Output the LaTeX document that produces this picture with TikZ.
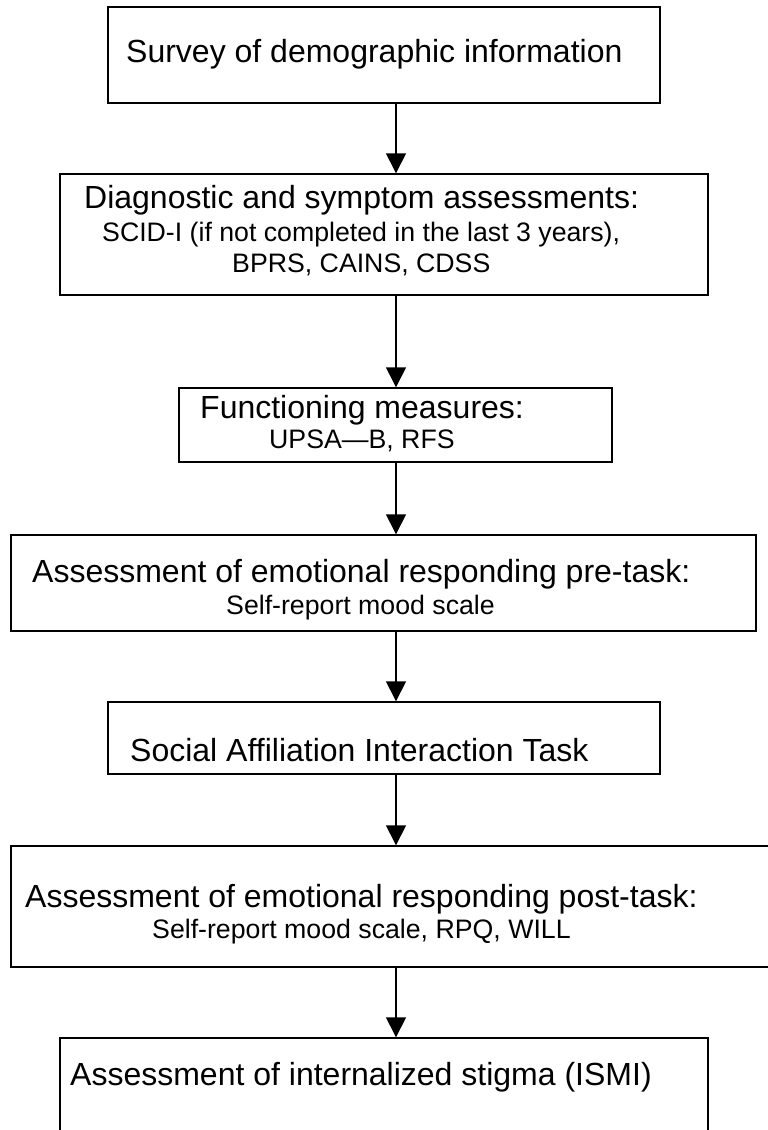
\documentclass[tikz,border=0pt]{standalone}
\usepackage{fontspec}
\setmainfont{Liberation Sans}
\usetikzlibrary{arrows.meta}
\tikzset{
  box/.style={draw=black, line width=1.4pt, inner sep=0pt, rectangle},
  big/.style={anchor=base west, inner sep=0pt, font=\fontsize{32}{38}\selectfont},
  small/.style={anchor=base west, inner sep=0pt, font=\fontsize{26.7}{32}\selectfont},
  flow/.style={line width=1.4pt, -{Triangle[width=20pt,length=20pt]}}
}
\begin{document}
\begin{tikzpicture}[x=1pt,y=-1pt]
\useasboundingbox (0,0) rectangle (768,1130);
\clip (0,0) rectangle (768,1130);
\coordinate (ax) at (396,0);
% boxes
\node[box, minimum width=552pt, minimum height=96pt]  (b1) at (384,55) {};
\node[box, minimum width=648pt, minimum height=121pt] (b2) at (384,234.5) {};
\node[box, minimum width=433pt, minimum height=74pt]  (b3) at (395.5,425) {};
\node[box, minimum width=745pt, minimum height=96pt]  (b4) at (383.5,583) {};
\node[box, minimum width=552pt, minimum height=72pt]  (b5) at (384,738) {};
\node[box, minimum width=790pt, minimum height=121pt] (b6) at (406,906.5) {};
\node[box, minimum width=648pt, minimum height=140pt] (b7) at (384,1108) {};
% texts
\node[big]   (t1)  at (126,62)  {Survey of demographic information};
\node[big]   (t2a) at (84,208)  {Diagnostic and symptom assessments:};
\node[small] (t2b) at (102,241) {SCID-I (if not completed in the last 3 years),};
\node[small] (t2c) at (232,272) {BPRS, CAINS, CDSS};
\node[big]   (t3a) at (200,418) {Functioning measures:};
\node[small] (t3b) at (269,448) {UPSA—B, RFS};
\node[big]   (t4a) at (32,582)  {Assessment of emotional responding pre-task:};
\node[small] (t4b) at (226,614) {Self-report mood scale};
\node[big]   (t5)  at (130,761) {Social Affiliation Interaction Task};
\node[big]   (t6a) at (25,907)  {Assessment of emotional responding post-task:};
\node[small] (t6b) at (152,938) {Self-report mood scale, RPQ, WILL};
\node[big]   (t7)  at (70,1085) {Assessment of internalized stigma (ISMI)};
% connectors
\draw[flow] (b1.south -| ax) -- (b2.north -| ax);
\draw[flow] (b2.south -| ax) -- (b3.north -| ax);
\draw[flow] (b3.south -| ax) -- (b4.north -| ax);
\draw[flow] (b4.south -| ax) -- (b5.north -| ax);
\draw[flow] (b5.south -| ax) -- (b6.north -| ax);
\draw[flow] (b6.south -| ax) -- (b7.north -| ax);
\end{tikzpicture}
\end{document}
